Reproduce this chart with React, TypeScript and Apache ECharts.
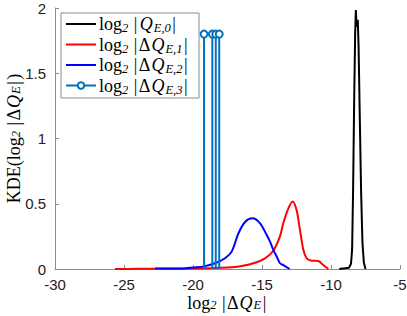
import React, { useEffect, useRef } from "react";
import * as echarts from "echarts";

const xTicks = [-30, -25, -20, -15, -10, -5];
const yTicks = [0, 0.5, 1, 1.5, 2];

const q0X = [-9.4, -9.0, -8.7, -8.55, -8.47, -8.4, -8.32, -8.25, -8.2, -8.15, -8.1, -8.06, -8.0, -7.92, -7.82, -7.72, -7.62, -7.5];
const q0Y = [0, 0.005, 0.01, 0.04, 0.15, 0.6, 1.3, 1.8, 1.985, 1.87, 1.86, 1.91, 1.7, 1.2, 0.6, 0.2, 0.05, 0];

const q1X = [-25.65, -24, -22, -20, -18.5, -17.2, -16.47, -15.5, -14.78, -14.18, -13.7, -13.46, -13.09, -12.78, -12.49, -12.25, -12.0, -11.76, -11.4, -10.92, -10.56, -10.2];
const q1Y = [0, 0.001, 0.002, 0.004, 0.008, 0.014, 0.023, 0.048, 0.082, 0.14, 0.25, 0.35, 0.465, 0.518, 0.45, 0.3, 0.146, 0.082, 0.064, 0.061, 0.03, 0];

const q2X = [-22.75, -21.5, -20.5, -20.0, -19.2, -18.41, -17.68, -17.2, -16.72, -16.23, -15.7, -15.14, -14.66, -14.42, -14.18, -13.93, -13.7, -13.46, -13.0];
const q2Y = [0.003, 0.004, 0.006, 0.012, 0.02, 0.044, 0.082, 0.133, 0.27, 0.36, 0.388, 0.35, 0.26, 0.21, 0.146, 0.094, 0.044, 0.03, 0];

const q3X = [-19.2, -18.6, -18.35, -18.1];
const q3Y = [1.8, 1.8, 1.8, 1.8];

const names = ["q0", "q1", "q2", "q3"];
const legendLabels: Record<string, string> = {
  q0: "{n|log}{s|2}{g| }{b||}{i|Q}{s|E,0}{b||}",
  q1: "{n|log}{s|2}{g| }{b||}{n|Δ}{i|Q}{s|E,1}{b||}",
  q2: "{n|log}{s|2}{g| }{b||}{n|Δ}{i|Q}{s|E,2}{b||}",
  q3: "{n|log}{s|2}{g| }{b||}{n|Δ}{i|Q}{s|E,3}{b||}",
};

const serif = "'Liberation Serif', 'DejaVu Serif', serif";
const sans = "'Liberation Sans', Arial, sans-serif";

const makeRich = (lh: number, slh: number) => ({
  n: { fontFamily: serif, fontSize: 18, color: "#000", lineHeight: lh },
  b: { fontFamily: serif, fontSize: 18, color: "#000", lineHeight: lh, padding: [0, 1.5, 0, 1.5] },
  g: { fontFamily: serif, fontSize: 18, color: "#000", lineHeight: lh, width: 4 },
  i: { fontFamily: serif, fontSize: 18, fontStyle: "italic", color: "#000", lineHeight: lh, padding: [0, 1, 0, 1] },
  s: { fontFamily: serif, fontSize: 12.5, fontStyle: "italic", color: "#000", lineHeight: slh, verticalAlign: "bottom" },
});
const rich = makeRich(21, 13);
const richAxis = makeRich(16, 10);

const zip = (xs: number[], ys: number[]) => xs.map((x, i) => [x, ys[i]]);

export default function App() {
  const ref = useRef<HTMLDivElement>(null);
  useEffect(() => {
    if (!ref.current) return;
    const chart = echarts.init(ref.current, null, { renderer: "svg" });
    const stemSeries = q3X.map((x, i) => ({
      name: names[3],
      type: "line",
      data: [
        { value: [x, 0], symbol: "none" },
        { value: [x, q3Y[i]] },
      ],
      symbol: "emptyCircle",
      symbolSize: 7,
      lineStyle: { color: "#0072BD", width: 2 },
      itemStyle: { color: "#0072BD", borderWidth: 2 },
      z: 3,
    }));
    chart.setOption({
      animation: false,
      grid: { left: 55, right: 7, top: 8, bottom: 47, containLabel: false, outerBoundsMode: "none" },
      xAxis: {
        type: "value",
        min: -30,
        max: -5,
        interval: 5,
        axisLine: { show: true, lineStyle: { color: "#8c8c8c", width: 1 } },
        axisTick: { show: true, inside: true, length: 4, lineStyle: { color: "#8c8c8c" } },
        splitLine: { show: false },
        axisLabel: { color: "#222", fontFamily: sans, fontSize: 15, lineHeight: 15, margin: 8 },
        name: "{n|log}{s|2}{g| }{b||}{n|Δ}{i|Q}{s|E}{b||}",
        nameLocation: "middle",
        nameGap: 26,
        nameMoveOverlap: false,
        nameTextStyle: { rich: richAxis },
      },
      yAxis: {
        type: "value",
        min: 0,
        max: 2,
        interval: 0.5,
        axisLine: { show: true, lineStyle: { color: "#8c8c8c", width: 1 } },
        axisTick: { show: true, inside: true, length: 4, lineStyle: { color: "#8c8c8c" } },
        splitLine: { show: false },
        axisLabel: { color: "#222", fontFamily: sans, fontSize: 15, margin: 9 },
        name: "{n|KDE(log}{s|2}{g| }{b||}{n|Δ}{i|Q}{s|E}{b||}{n|)}",
        nameLocation: "middle",
        nameGap: 33,
        nameMoveOverlap: false,
        nameTextStyle: { rich: richAxis },
      },
      legend: {
        orient: "vertical",
        left: 61,
        top: 13,
        padding: [2, 10, 2, 4],
        itemGap: 1,
        itemWidth: 30,
        itemHeight: 8,
        borderColor: "#8c8c8c",
        borderWidth: 1,
        borderRadius: 0,
        backgroundColor: "#fff",
        data: [
          { name: names[0], itemStyle: { opacity: 0 } },
          { name: names[1], itemStyle: { opacity: 0 } },
          { name: names[2], itemStyle: { opacity: 0 } },
          { name: names[3] },
        ],
        formatter: (name: string) => legendLabels[name],
        textStyle: { rich, padding: [0, 0, 0, -2] },
      },
      series: [
        {
          name: names[0],
          type: "line",
          data: zip(q0X, q0Y),
          symbol: "none",
          lineStyle: { color: "#000", width: 2 },
          itemStyle: { color: "#000" },
        },
        {
          name: names[1],
          type: "line",
          data: zip(q1X, q1Y),
          symbol: "none",
          smooth: 0.3,
          lineStyle: { color: "#ff0000", width: 2 },
          itemStyle: { color: "#ff0000" },
        },
        {
          name: names[2],
          type: "line",
          data: zip(q2X, q2Y),
          symbol: "none",
          smooth: 0.3,
          lineStyle: { color: "#0000ff", width: 2 },
          itemStyle: { color: "#0000ff" },
        },
        ...stemSeries,
      ],
    });
    return () => chart.dispose();
  }, []);
  return <div ref={ref} style={{ width: 407, height: 316, position: "absolute", left: 0, top: 0 }} />;
}
